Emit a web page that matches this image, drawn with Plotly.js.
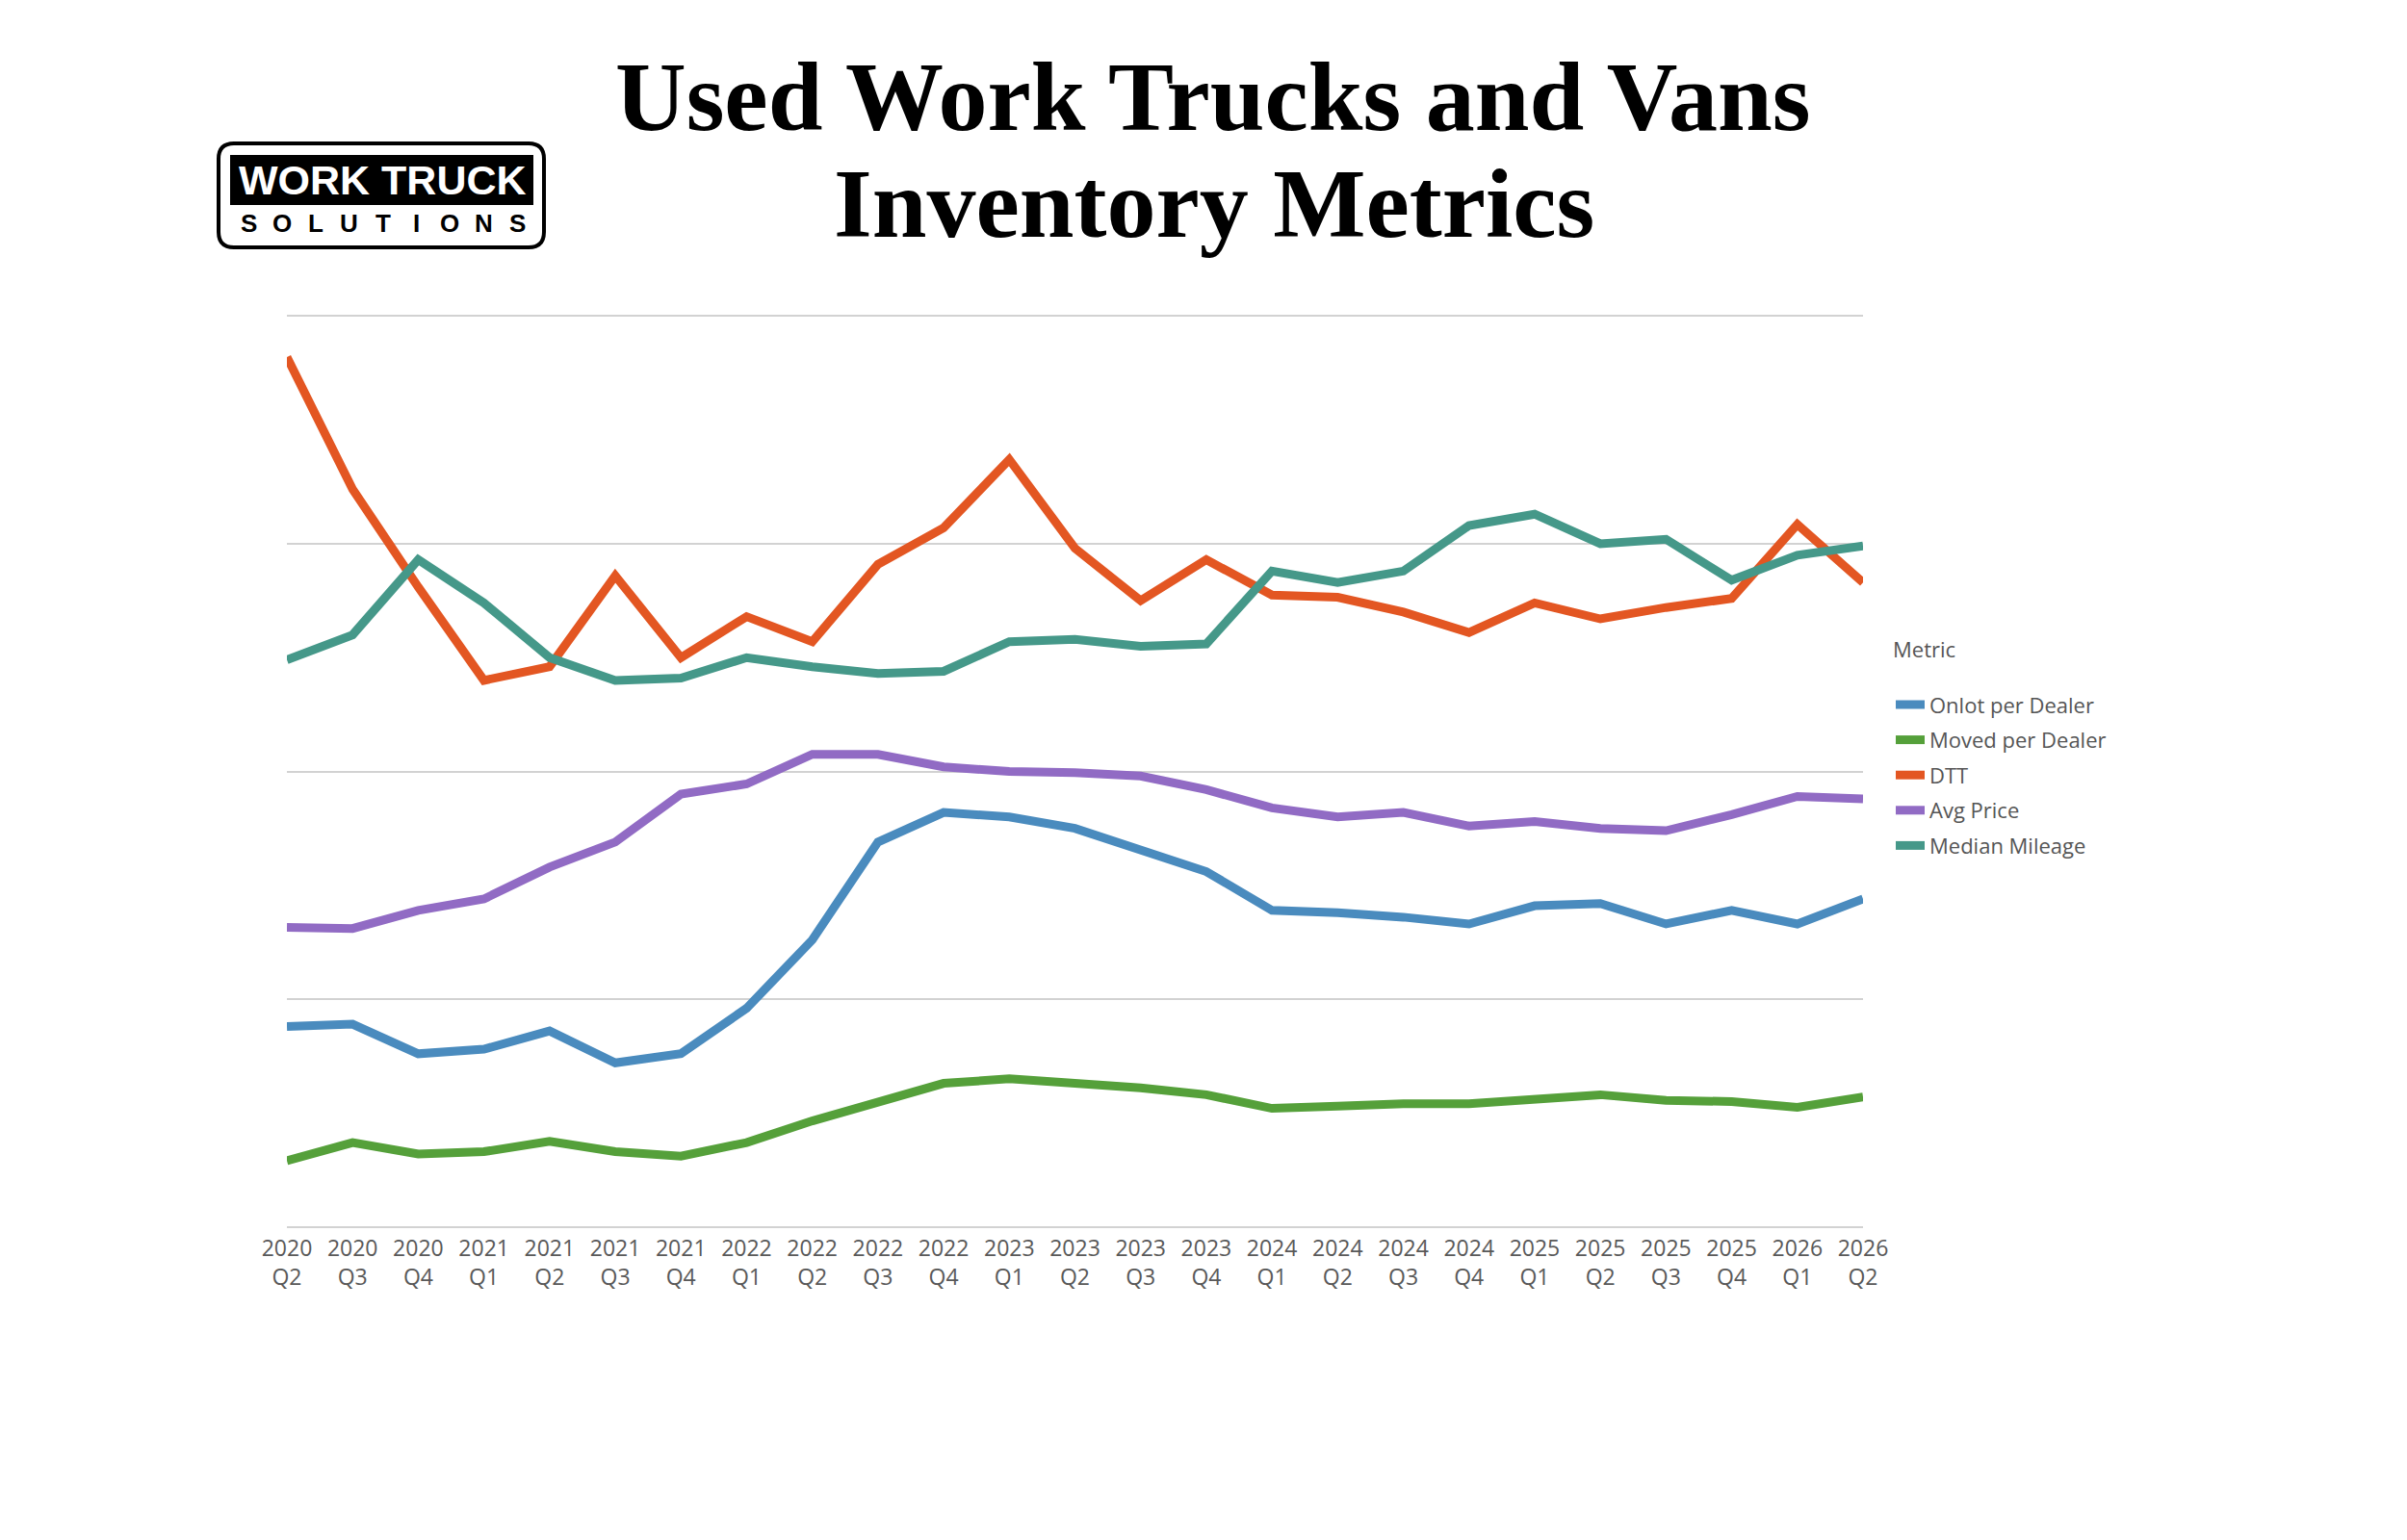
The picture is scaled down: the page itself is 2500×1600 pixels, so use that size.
<!DOCTYPE html>
<html>
<head>
<meta charset="utf-8">
<script src="https://cdn.plot.ly/plotly-3.0.1.min.js"></script>
<style>
  body { margin: 0; background: #fff; }
  #chart { width: 2500px; height: 1600px; }
</style>
</head>
<body>
<div id="chart"></div>
<script>
// quarters on the x axis
var quarters = ['2020<br>Q2', '2020<br>Q3', '2020<br>Q4',
    '2021<br>Q1', '2021<br>Q2', '2021<br>Q3', '2021<br>Q4',
    '2022<br>Q1', '2022<br>Q2', '2022<br>Q3', '2022<br>Q4',
    '2023<br>Q1', '2023<br>Q2', '2023<br>Q3', '2023<br>Q4',
    '2024<br>Q1', '2024<br>Q2', '2024<br>Q3', '2024<br>Q4',
    '2025<br>Q1', '2025<br>Q2', '2025<br>Q3', '2025<br>Q4',
    '2026<br>Q1', '2026<br>Q2'];

// indexed metric values (no scale shown on the chart)
var onlotPerDealer = [0.88, 0.89, 0.76, 0.78, 0.86, 0.72, 0.76, 0.96, 1.26, 1.69, 1.82, 1.80, 1.75,
    1.65, 1.56, 1.39, 1.38, 1.36, 1.33, 1.41, 1.42, 1.33, 1.39, 1.33, 1.44];
var movedPerDealer = [0.29, 0.37, 0.32, 0.33, 0.375, 0.33, 0.31, 0.37, 0.465, 0.55, 0.63, 0.65, 0.63,
    0.61, 0.58, 0.52, 0.53, 0.54, 0.54, 0.56, 0.58, 0.555, 0.55, 0.525, 0.57];
var dtt = [3.82, 3.24, 2.81, 2.40, 2.46, 2.86, 2.50, 2.68, 2.57, 2.91, 3.07, 3.37, 2.98,
    2.75, 2.93, 2.775, 2.765, 2.70, 2.61, 2.74, 2.67, 2.72, 2.76, 3.085, 2.83];
var avgPrice = [1.315, 1.31, 1.39, 1.44, 1.58, 1.69, 1.90, 1.945, 2.075, 2.075, 2.02, 2.00, 1.995,
    1.98, 1.92, 1.84, 1.80, 1.82, 1.76, 1.78, 1.75, 1.74, 1.81, 1.89, 1.88];
var medianMileage = [2.49, 2.60, 2.93, 2.74, 2.50, 2.40, 2.41, 2.50, 2.46, 2.43, 2.44, 2.57, 2.58,
    2.55, 2.56, 2.88, 2.83, 2.88, 3.08, 3.13, 3.00, 3.02, 2.84, 2.95, 2.99];

var names = ['Onlot per Dealer', 'Moved per Dealer', 'DTT', 'Avg Price', 'Median Mileage'];
var colors = ['#4a8bbe', '#55a03a', '#e35622', '#916bc4', '#459889'];
var series = [onlotPerDealer, movedPerDealer, dtt, avgPrice, medianMileage];

var W = 2500, H = 1600;
var mL = 298, mR = 565, mT = 327, mB = 324;
function px2x(px) { return (px - mL) / (W - mL - mR); }
function py2y(py) { return (H - mB - py) / (H - mT - mB); }

var graphdata = series.map(function (vals, i) {
    return {
        x: quarters,
        y: vals,
        name: names[i],
        type: 'scatter',
        mode: 'lines',
        cliponaxis: false,
        line: { color: colors[i], width: 9 },
        legendgroup: 'g' + i
    };
});

var annotations = [
    {
        text: '<b>Used Work Trucks and Vans</b>',
        x: px2x(1260), y: py2y(100), xref: 'paper', yref: 'paper',
        xanchor: 'center', yanchor: 'middle', showarrow: false,
        font: { family: 'Liberation Serif, Times New Roman, serif', size: 102, color: '#000' }
    },
    {
        text: '<b>Inventory Metrics</b>',
        x: px2x(1261), y: py2y(212), xref: 'paper', yref: 'paper',
        xanchor: 'center', yanchor: 'middle', showarrow: false,
        font: { family: 'Liberation Serif, Times New Roman, serif', size: 102, color: '#000' }
    },
    {
        text: '<b>WORK TRUCK</b>',
        x: px2x(397), y: py2y(187), xref: 'paper', yref: 'paper',
        xanchor: 'center', yanchor: 'middle', showarrow: false,
        font: { family: 'Liberation Sans, Arial, sans-serif', size: 43, color: '#fff' }
    }
];

// letter-spaced word under the logo bar
var logoWord = 'SOLUTIONS';
for (var k = 0; k < logoWord.length; k++) {
    annotations.push({
        text: '<b>' + logoWord[k] + '</b>',
        x: px2x(258 + k * 34.9), y: py2y(232), xref: 'paper', yref: 'paper',
        xanchor: 'center', yanchor: 'middle', showarrow: false,
        font: { family: 'Liberation Sans, Arial, sans-serif', size: 26, color: '#000' }
    });
}

var shapes = [
    // logo outline
    {
        type: 'path', xref: 'paper', yref: 'paper',
        path: roundRect(227, 149, 565, 257, 16),
        line: { color: '#000', width: 4 }, fillcolor: 'rgba(0,0,0,0)'
    },
    // logo black bar
    {
        type: 'rect', xref: 'paper', yref: 'paper',
        x0: px2x(239), x1: px2x(554), y0: py2y(161), y1: py2y(213),
        line: { width: 0 }, fillcolor: '#000', layer: 'below'
    }
];

function roundRect(x0, y0, x1, y1, r) {
    var p = function (px, py) { return px2x(px) + ',' + py2y(py); };
    return 'M' + p(x0 + r, y0) + ' L' + p(x1 - r, y0) +
        ' Q' + p(x1, y0) + ' ' + p(x1, y0 + r) +
        ' L' + p(x1, y1 - r) + ' Q' + p(x1, y1) + ' ' + p(x1 - r, y1) +
        ' L' + p(x0 + r, y1) + ' Q' + p(x0, y1) + ' ' + p(x0, y1 - r) +
        ' L' + p(x0, y0 + r) + ' Q' + p(x0, y0) + ' ' + p(x0 + r, y0) + ' Z';
}

var layout = {
    width: W,
    height: H,
    paper_bgcolor: '#fff',
    plot_bgcolor: '#fff',
    margin: { l: mL, r: mR, t: mT, b: mB, pad: 0 },
    font: { family: 'Open Sans, sans-serif', color: '#595959' },
    showlegend: true,
    legend: {
        x: px2x(1964), y: py2y(654), xanchor: 'left', yanchor: 'top',
        font: { size: 22, color: '#555' },
        title: { text: 'Metric<br> ', font: { size: 22, color: '#555' } },
        traceorder: 'grouped',
        tracegroupgap: 5
    },
    xaxis: {
        type: 'category',
        range: [0, 24],
        showgrid: false,
        zeroline: false,
        showline: false,
        ticks: '',
        ticklabelstandoff: 5,
        tickfont: { size: 23, color: '#595959' },
        tickangle: 0
    },
    yaxis: {
        range: [-0.006, 4.006],
        tickvals: [0, 1, 2, 3, 4],
        showticklabels: false,
        showgrid: true,
        gridcolor: '#d2d2d2',
        gridwidth: 2,
        zeroline: false,
        showline: false,
        ticks: ''
    },
    annotations: annotations,
    shapes: shapes
};

Plotly.newPlot('chart', graphdata, layout, { displayModeBar: false });
</script>
</body>
</html>
